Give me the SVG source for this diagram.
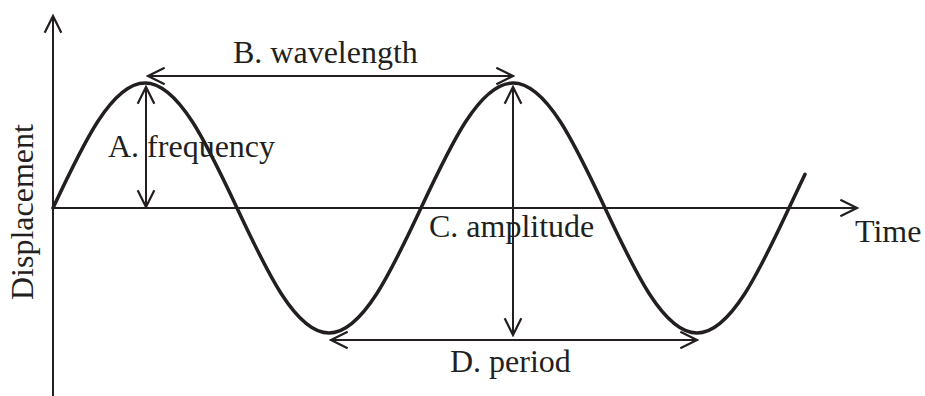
<svg xmlns="http://www.w3.org/2000/svg" width="925" height="396" viewBox="0 0 925 396">
<style>
.ax{stroke:#231f20;stroke-width:2;fill:none}
.ar{stroke:#231f20;stroke-width:2;fill:none;marker-end:url(#v);marker-start:url(#v)}
.wave{stroke:#231f20;stroke-width:3.5;fill:none;stroke-linecap:round}
text{font-family:"Liberation Serif","Times New Roman",serif;font-size:32px;fill:#231f20}
</style>
<defs>
<marker id="v" markerUnits="userSpaceOnUse" markerWidth="20" markerHeight="20" viewBox="-16 -9 18 18" refX="0" refY="0" orient="auto-start-reverse">
<path d="M-15,-7.5 L0,0 L-15,7.5" fill="none" stroke="#231f20" stroke-width="2"/>
</marker>
</defs>
<rect width="925" height="396" fill="#ffffff"/>
<g id="axes">
<line class="ax" x1="53" y1="396" x2="53" y2="16" marker-end="url(#v)"/>
<line class="ax" x1="53" y1="208" x2="857" y2="208" marker-end="url(#v)"/>
</g>
<g id="wave">
<path class="wave" d="M53,208 c30,-64 58.7,-125 92,-125 c33.3,0 62,61 92,125 c30,64 58.7,125 92,125 c33.3,0 62,-61 92,-125 c30,-64 58.7,-125 92,-125 c33.3,0 62,61 92,125 c30,64 58.7,125 92,125 c33.3,0 62,-61 92,-125 C794.3,196.6 799.7,185.3 805,174.3"/>
</g>
<g id="connectors">
<line class="ar" x1="146" y1="87" x2="146" y2="207"/>
<line class="ar" x1="148" y1="76" x2="513" y2="76"/>
<line class="ar" x1="513" y1="87" x2="513" y2="335"/>
<line class="ar" x1="331" y1="340" x2="697" y2="340"/>
</g>
<g id="labels">
<text x="233" y="63">B. wavelength</text>
<text x="108" y="157">A. frequency</text>
<text x="429" y="237">C. amplitude</text>
<text x="450" y="372">D. period</text>
<text x="855" y="242">Time</text>
<text transform="translate(33,300) rotate(-90)">Displacement</text>
</g>
</svg>
